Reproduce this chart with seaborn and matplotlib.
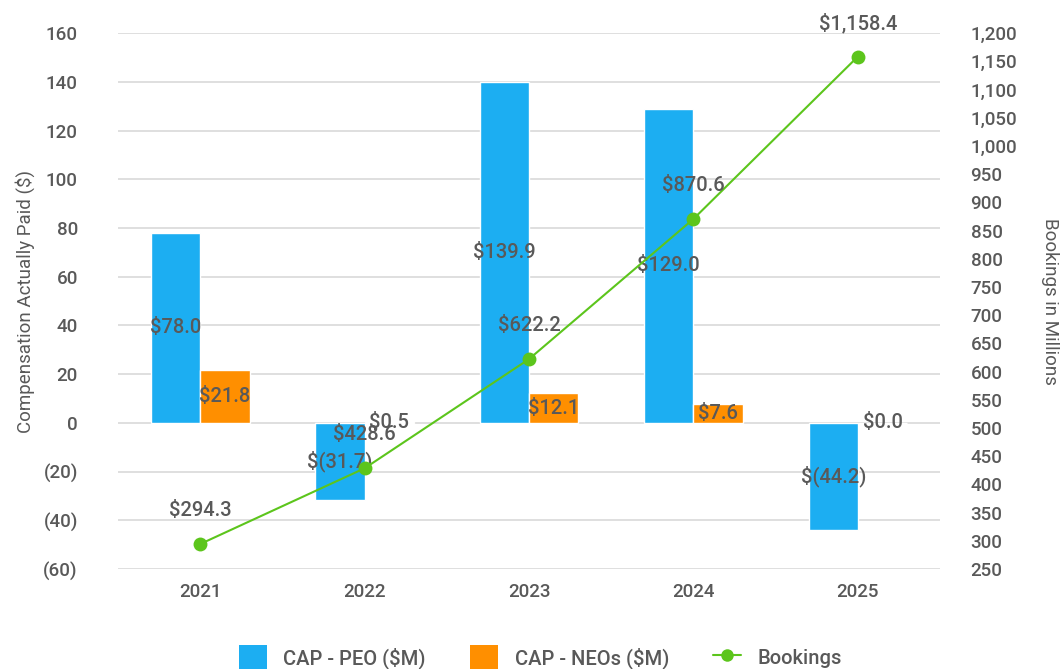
import matplotlib
matplotlib.use("Agg")
import matplotlib.pyplot as plt
from matplotlib.ticker import FuncFormatter, MultipleLocator
from matplotlib.lines import Line2D
from matplotlib.patches import Patch
import seaborn as sns
import pandas as pd
import numpy as np

years = ["2021", "2022", "2023", "2024", "2025"]
cap_peo = [78.0, -31.7, 139.9, 129.0, -44.2]
cap_neos = [21.8, 0.5, 12.1, 7.6, 0.0]
bookings = [294.3, 428.6, 622.2, 870.6, 1158.4]

BLUE = "#1CAEF2"
ORANGE = "#FF8F00"
GREEN = "#5CC51C"
TXT = "#595959"
GRID = "#D9D9D9"

sns.set_theme(style="white")
plt.rcParams["font.family"] = ["Roboto", "DejaVu Sans"]
plt.rcParams["font.weight"] = "medium"

df = pd.DataFrame({
    "Year": years * 2,
    "Value": cap_peo + cap_neos,
    "Series": ["CAP - PEO ($M)"] * 5 + ["CAP - NEOs ($M)"] * 5,
})

fig = plt.figure(figsize=(10.64, 6.69), dpi=100)
ax = fig.add_axes([0.111, 0.1495, 0.7725, 0.801])

sns.barplot(data=df, x="Year", y="Value", hue="Series",
            palette=[BLUE, ORANGE], width=0.6, ax=ax, legend=False,
            saturation=1)

ax.set_ylim(-60, 160)
ax.set_xlim(-0.5, 4.5)
ax.yaxis.set_major_locator(MultipleLocator(20))
ax.yaxis.set_major_formatter(FuncFormatter(lambda v, p: f"({abs(int(v))})" if v < 0 else f"{int(v)}"))
ax.grid(axis="y", color=GRID, linewidth=1.2)
ax.set_axisbelow(True)
for s in ax.spines.values():
    s.set_visible(False)
ax.tick_params(axis="both", length=0, labelsize=13.5, colors=TXT, pad=10)
ax.tick_params(axis="y", pad=29)
ax.set_xlabel("")
ax.set_ylabel("Compensation Actually Paid ($)", fontsize=13.5, color=TXT, labelpad=6)

def money(v):
    if v < 0:
        return f"$({abs(v):,.1f})"
    return f"${v:,.1f}"

bw = 0.3
for i, (p, n) in enumerate(zip(cap_peo, cap_neos)):
    ax.text(i - bw / 2, p / 2, money(p), ha="center", va="center",
            fontsize=14.5, color=TXT)
    ax.text(i + bw / 2, n / 2, money(n), ha="center", va="center",
            fontsize=14.5, color=TXT)

ax2 = ax.twinx()
sns.lineplot(x=np.arange(len(years)), y=bookings, ax=ax2, color=GREEN,
             marker="o", markersize=10, markeredgewidth=0, linewidth=1.5)
ax2.set_ylim(250, 1200)
ax2.set_xlim(-0.5, 4.5)
ax2.yaxis.set_major_locator(MultipleLocator(50))
ax2.yaxis.set_major_formatter(FuncFormatter(lambda v, p: f"{int(v):,}"))
for s in ax2.spines.values():
    s.set_visible(False)
ax2.tick_params(axis="y", length=0, labelsize=13.5, colors=TXT, pad=22)
ax2.set_ylabel("Bookings in Millions", fontsize=13.5, color=TXT, rotation=270, labelpad=30)
ax2.grid(False)

for i, b in enumerate(bookings):
    ax2.annotate(money(b), (i, b), xytext=(0, 24), textcoords="offset points",
                 ha="center", va="center", fontsize=14.5, color=TXT)

handles = [
    Patch(facecolor=BLUE, edgecolor="none"),
    Patch(facecolor=ORANGE, edgecolor="none"),
    Line2D([0], [0], color=GREEN, marker="o", markersize=9, markeredgewidth=0, linewidth=1.5),
]
labels = ["CAP - PEO ($M)", "CAP - NEOs ($M)", "Bookings"]
fig.legend(handles, labels, loc="center", bbox_to_anchor=(0.508, 0.017), ncol=3,
           frameon=False, fontsize=14.5, labelcolor=TXT, handlelength=1.4,
           handleheight=1.5, columnspacing=2.2, handletextpad=0.8)

fig.savefig("out.png", dpi=100)
